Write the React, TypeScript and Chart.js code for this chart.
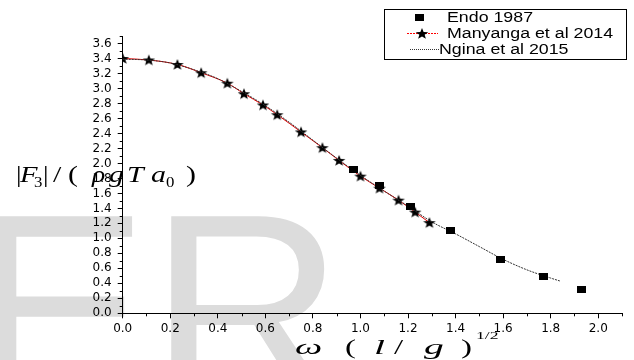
import React, { useEffect, useRef } from "react";
import { Chart, registerables } from "chart.js";

Chart.register(...registerables);

// ---- data ----
const endoX = [0.97, 1.08, 1.21, 1.38, 1.59, 1.77, 1.93];
const endoY = [1.92, 1.70, 1.42, 1.10, 0.72, 0.49, 0.32];

const manyangaX = [0, 0.11, 0.23, 0.33, 0.44, 0.51, 0.59, 0.65, 0.75, 0.84, 0.91, 1.0, 1.08, 1.16, 1.23, 1.29];
const manyangaY = [3.40, 3.38, 3.32, 3.21, 3.07, 2.93, 2.78, 2.65, 2.42, 2.21, 2.04, 1.83, 1.67, 1.51, 1.35, 1.21];

const nginaX = [0, 0.1, 0.2, 0.3, 0.4, 0.5, 0.6, 0.7, 0.8, 0.9, 1.0, 1.1, 1.2, 1.3, 1.4, 1.5, 1.6, 1.7, 1.8, 1.84];
const nginaY = [3.39, 3.38, 3.34, 3.25, 3.13, 2.96, 2.77, 2.55, 2.31, 2.07, 1.84, 1.63, 1.43, 1.22, 1.06, 0.89, 0.72, 0.58, 0.47, 0.43];

const legendLabels = ["Endo 1987", "Manyanga et al 2014", "Ngina et al 2015"];
const xMin = 0, xMax = 2.1, xStep = 0.2;
const yMin = 0, yMax = 3.7, yStep = 0.2;

function makeStar(): HTMLCanvasElement {
  const c = document.createElement("canvas");
  c.width = 14; c.height = 13;
  const g = c.getContext("2d")!;
  const cx = 7, cy = 7, R = 6, r = 2.5;
  g.beginPath();
  for (let i = 0; i < 10; i++) {
    const a = -Math.PI / 2 + (i * Math.PI) / 5;
    const rad = i % 2 ? r : R;
    const px = cx + rad * Math.cos(a) * 1.1;
    const py = cy + rad * Math.sin(a);
    if (i === 0) g.moveTo(px, py); else g.lineTo(px, py);
  }
  g.closePath();
  g.fillStyle = "#000";
  g.fill();
  return c;
}

function makeSquare(): HTMLCanvasElement {
  const c = document.createElement("canvas");
  c.width = 9; c.height = 7;
  const g = c.getContext("2d")!;
  g.fillStyle = "#000";
  g.fillRect(0, 0, 9, 7);
  return c;
}

function glyph(ctx: CanvasRenderingContext2D, t: string, x: number, y: number, font: string, sx: number) {
  ctx.save();
  ctx.translate(x, y);
  ctx.scale(sx, 1);
  ctx.font = font;
  ctx.textBaseline = "alphabetic";
  ctx.textAlign = "left";
  ctx.fillText(t, 0, 0);
  ctx.restore();
}

export default function App() {
  const ref = useRef<HTMLCanvasElement>(null);

  useEffect(() => {
    document.body.style.margin = "0";
    const star = makeStar();
    const square = makeSquare();

    const watermark = {
      id: "watermark",
      beforeDraw(chart: any) {
        const ctx = chart.ctx as CanvasRenderingContext2D;
        ctx.save();
        ctx.fillStyle = "#dcdcdc";
        ctx.font = '270px "Liberation Sans"';
        ctx.textBaseline = "alphabetic";
        ctx.fillText("ER", -31, 402);
        ctx.restore();
      },
    };

    const extras = {
      id: "extras",
      afterDraw(chart: any) {
        const ctx = chart.ctx as CanvasRenderingContext2D;
        const xs = chart.scales.x, ys = chart.scales.y;
        const area = chart.chartArea;
        ctx.save();
        // minor ticks
        ctx.strokeStyle = "#000";
        ctx.lineWidth = 1;
        ctx.beginPath();
        for (let v = xMin + xStep / 2; v <= xMax + 1e-9; v += xStep) {
          const px = Math.round(xs.getPixelForValue(v)) + 0.5;
          ctx.moveTo(px, area.bottom);
          ctx.lineTo(px, area.bottom + 3);
        }
        for (let v = yMin + yStep / 2; v <= yMax + 1e-9; v += yStep) {
          const py = Math.round(ys.getPixelForValue(v)) + 0.5;
          ctx.moveTo(area.left, py);
          ctx.lineTo(area.left - 3, py);
        }
        ctx.stroke();

        // legend
        ctx.fillStyle = "#fff";
        ctx.fillRect(384.5, 9.5, 242, 50);
        ctx.strokeStyle = "#000";
        ctx.strokeRect(384.5, 9.5, 242, 50);
        ctx.drawImage(square, 415, 14);
        ctx.strokeStyle = "#ff0000";
        ctx.setLineDash([2, 1]);
        ctx.beginPath();
        ctx.moveTo(407, 33.5);
        ctx.lineTo(438, 33.5);
        ctx.stroke();
        ctx.drawImage(star, 415, 27);
        ctx.strokeStyle = "#333";
        ctx.setLineDash([1, 1]);
        ctx.beginPath();
        ctx.moveTo(410, 49.5);
        ctx.lineTo(439, 49.5);
        ctx.stroke();
        ctx.setLineDash([]);
        ctx.fillStyle = "#000";
        const lf = '14px "Liberation Sans"';
        glyph(ctx, legendLabels[0], 447, 22, lf, 1.27);
        glyph(ctx, legendLabels[1], 447, 38, lf, 1.27);
        glyph(ctx, legendLabels[2], 439, 54, lf, 1.27);

        // y title
        const it = 'italic 23px "Liberation Serif"';
        const up = '23px "Liberation Serif"';
        const sub = '14px "Liberation Serif"';
        const yb = 182;
        glyph(ctx, "|", 16, yb, up, 1.2);
        glyph(ctx, "F", 20, yb, it, 1.25);
        glyph(ctx, "3", 34, yb + 5, sub, 1.2);
        glyph(ctx, "|", 43, yb, up, 1.2);
        glyph(ctx, "/", 53, yb, up, 1.3);
        glyph(ctx, "(", 68, yb, up, 1.3);
        glyph(ctx, "ρ", 92, yb, it, 1.2);
        glyph(ctx, "g", 109, yb, it, 1.3);
        glyph(ctx, "T", 127, yb, it, 1.3);
        glyph(ctx, "a", 151, yb, it, 1.3);
        glyph(ctx, "0", 166, yb + 5, sub, 1.2);
        glyph(ctx, ")", 186, yb, up, 1.3);

        // x title
        const xb = 354;
        const xit = 'italic 22px "Liberation Serif"';
        const xup = '22px "Liberation Serif"';
        glyph(ctx, "ω", 295, xb, xit, 1.75);
        glyph(ctx, "(", 345, xb, xup, 1.5);
        glyph(ctx, "l", 374, xb, xit, 1.8);
        glyph(ctx, "/", 394, xb, xup, 1.5);
        glyph(ctx, "g", 424, xb, xit, 1.8);
        glyph(ctx, ")", 461, xb, xup, 1.5);
        glyph(ctx, "1/2", 476, 339, '11px "Liberation Serif"', 1.6);
        ctx.restore();
      },
    };

    const tickFont = { family: '"DejaVu Sans"', size: 12 };
    const chart = new Chart(ref.current!, {
      type: "line",
      data: {
        datasets: [
          {
            label: legendLabels[0],
            data: endoX.map((x, i) => ({ x, y: endoY[i] })),
            showLine: false,
            pointStyle: square as any,
            pointRadius: 5,
            borderColor: "#000",
            backgroundColor: "#000",
          },
          {
            label: legendLabels[2],
            data: nginaX.map((x, i) => ({ x, y: nginaY[i] })),
            borderColor: "#333",
            borderWidth: 1,
            borderDash: [2, 1],
            pointRadius: 0,
            cubicInterpolationMode: "monotone",
            fill: false,
          },
          {
            label: legendLabels[1],
            data: manyangaX.map((x, i) => ({ x, y: manyangaY[i] })),
            borderColor: "#e00000",
            borderWidth: 1,
            pointStyle: star as any,
            pointRadius: 5,
            cubicInterpolationMode: "monotone",
            fill: false,
          },
        ],
      },
      options: {
        animation: false,
        responsive: false,
        events: [],
        layout: { padding: { left: 0, top: 36, right: 12, bottom: 0 } },
        plugins: { legend: { display: false }, tooltip: { enabled: false } },
        scales: {
          x: {
            type: "linear",
            min: xMin,
            max: xMax,
            afterFit: (s: any) => { s.height = 46.7; },
            border: { display: true, color: "#000", width: 1 },
            grid: { display: true, drawOnChartArea: false, drawTicks: true, tickLength: 5, color: "#000" },
            ticks: {
              stepSize: xStep,
              includeBounds: false,
              autoSkip: false,
              maxRotation: 0,
              padding: 3,
              color: "#000",
              font: tickFont,
              callback: (v: any) => Number(v).toFixed(1),
            },
          },
          y: {
            type: "linear",
            min: yMin,
            max: yMax,
            afterFit: (s: any) => { s.width = 122.7; },
            border: { display: true, color: "#000", width: 1 },
            grid: { display: true, drawOnChartArea: false, drawTicks: true, tickLength: 5, color: "#000" },
            ticks: {
              stepSize: yStep,
              includeBounds: false,
              autoSkip: false,
              padding: 6,
              color: "#000",
              font: tickFont,
              callback: (v: any) => Number(v).toFixed(1),
            },
          },
        },
      },
      plugins: [watermark, extras],
    });
    return () => chart.destroy();
  }, []);

  return (
    <div style={{ width: 634, height: 360 }}>
      <canvas ref={ref} width={634} height={360} />
    </div>
  );
}
